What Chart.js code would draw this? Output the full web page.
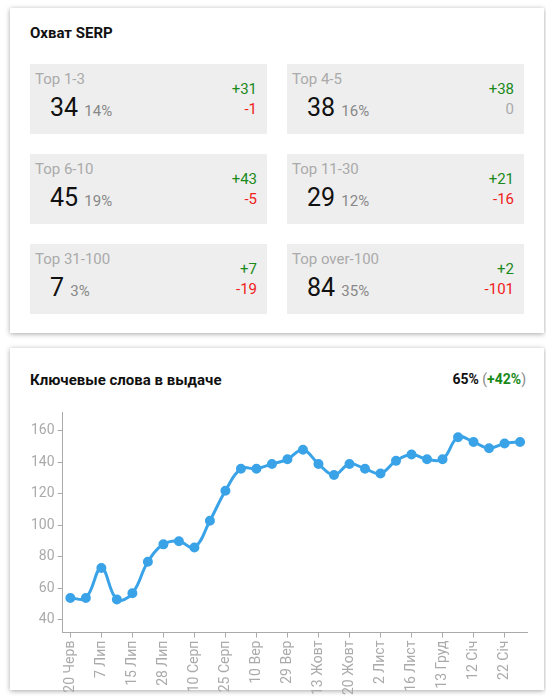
<!DOCTYPE html>
<html><head><meta charset="utf-8">
<script src="https://cdn.jsdelivr.net/npm/chart.js@4"></script>
<style>
body{margin:0;background:#fff;font-family:Roboto,sans-serif;width:546px;height:698px;position:relative;overflow:hidden}
.card{position:absolute;left:10px;width:534px;background:#fff;box-shadow:0 1px 5px rgba(0,0,0,.35)}
h3{margin:0;font-size:15px;font-weight:bold;color:#111;position:absolute;left:20px;top:16px}
.box{position:absolute;width:237px;height:70px;background:#eee}
.box .t{position:absolute;left:5px;top:6px;font-size:15px;color:#aaa}
.box .v{position:absolute;left:20px;top:29px;font-size:25px;color:#111}
.box .v span{font-size:15px;color:#888}
.box .p{position:absolute;right:10px;top:16px;font-size:15px;color:#1a8a1a}
.box .m{position:absolute;right:10px;top:36px;font-size:15px;color:#f02020}
</style></head><body>
<div class="card" style="top:8px;height:325px"><h3>Охват SERP</h3><div id="boxes"></div></div>
<div class="card" style="top:348px;height:342px"><h3 style="top:23px">Ключевые слова в выдаче</h3>
<div style="position:absolute;right:18px;top:23px;font-size:14px;font-weight:bold;color:#111">65% <span style="color:#888;font-weight:normal">(</span><span style="color:#1a8a1a">+42%</span><span style="color:#888;font-weight:normal">)</span></div>
<div style="position:absolute;left:10px;top:52px;width:520px;height:298px"><canvas id="c"></canvas></div>
</div>
<script>
const groups = ['Top 1-3','Top 4-5','Top 6-10','Top 11-30','Top 31-100','Top over-100'];
const counts = [34,38,45,29,7,84];
const shares = ['14%','16%','19%','12%','3%','35%'];
const gains = ['+31','+38','+43','+21','+7','+2'];
const losses = ['-1','0','-5','-16','-19','-101'];
const dates = ['20 Черв','','7 Лип','','15 Лип','','28 Лип','','10 Серп','','25 Серп','','10 Вер','','29 Вер','','13 Жовт','','20 Жовт','','2 Лист','','16 Лист','','13 Груд','','12 Січ','','22 Січ',''];
const keywords = [54,54,73,53,57,77,88,90,86,103,122,136,136,139,142,148,139,132,139,136,133,141,145,142,142,156,153,149,152,153];

let html = '';
groups.forEach((g,i)=>{
  const x = 20 + (i%2)*257, y = 56 + Math.floor(i/2)*90;
  html += `<div class="box" style="left:${x}px;top:${y}px"><div class="t">${g}</div>
  <div class="v">${counts[i]} <span>${shares[i]}</span></div>
  <div class="p">${gains[i]}</div><div class="m" style="${losses[i]==='0'?'color:#aaa':''}">${losses[i]}</div></div>`;
});
document.getElementById('boxes').innerHTML = html;

new Chart(document.getElementById('c'), {
  type: 'line',
  data: { labels: dates, datasets: [{ data: keywords, borderColor: '#3aa3e8', backgroundColor: '#3aa3e8',
    borderWidth: 3, pointRadius: 3.5, tension: 0.4, fill: false }] },
  options: {
    responsive: true, maintainAspectRatio: false, animation: false,
    layout: { padding: { left: 8, right: 8, top: 12 } },
    plugins: { legend: { display: false }, tooltip: { enabled: false } },
    scales: {
      y: { min: 32, max: 172, afterBuildTicks: a => { a.ticks = [40,60,80,100,120,140,160].map(v=>({value:v})); },
        grid: { drawOnChartArea: false, tickLength: 5, color: '#aaa' }, border: { color: '#aaa' },
        ticks: { color: '#aaa', font: { family: 'Roboto', size: 14 } } },
      x: { offset: true, grid: { drawOnChartArea: false, tickLength: 5, color: c => c.index % 2 ? 'transparent' : '#aaa' },
        border: { color: '#aaa' },
        ticks: { autoSkip: false, maxRotation: 90, minRotation: 90, color: '#aaa', font: { family: 'Roboto', size: 14 } } }
    }
  }
});
</script></body></html>
